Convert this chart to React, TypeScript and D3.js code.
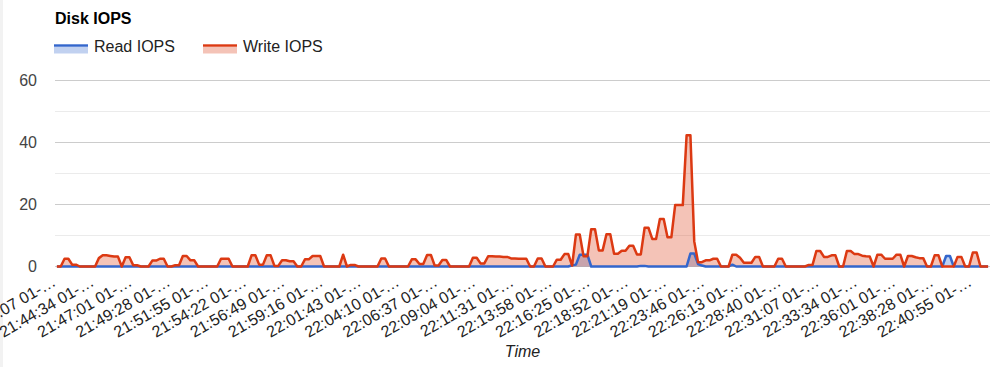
import React from "react";
import * as d3 from "d3";

const W = 995;
const H = 367;

// Write IOPS, one value per sample (~14.7 s each)
const writeIOPS = [
  0, 0, 2.5, 2.5, 0.6, 0.6, 0, 0, 0, 0,
  0, 2.7, 3.6, 3.6, 3.4, 3.2, 3.2, 0, 3.0, 3.0,
  0.4, 0.4, 0, 0, 0, 1.9, 1.9, 2.5, 2.5, 0,
  0, 0.4, 0.4, 3.4, 3.4, 2.0, 2.0, 0, 0, 0,
  0, 0, 0, 2.5, 2.5, 2.5, 0, 0, 0, 0,
  0, 3.6, 3.6, 0.6, 0.6, 3.6, 3.6, 0.2, 0.2, 2.0,
  2.0, 1.7, 1.7, 0, 0, 2.3, 2.3, 3.4, 3.4, 3.4,
  0, 0, 0, 0, 0, 3.8, 0, 0.5, 0.5, 0,
  0, 0, 0, 0, 0, 2.6, 2.6, 0, 0, 0,
  0, 0, 0, 2.3, 2.3, 0.8, 0.8, 3.7, 3.7, 0.3,
  0.3, 2.1, 2.1, 0, 0, 0, 0, 0, 0, 2.8,
  2.8, 1.0, 1.0, 3.3, 3.3, 3.2, 3.2, 3.1, 3.1, 2.6,
  2.6, 2.5, 2.5, 2.5, 0, 0, 2.6, 2.6, 0, 0,
  0, 2.2, 2.2, 4.0, 4.0, 0.3, 10.3, 10.3, 3.3, 3.3,
  12.0, 12.0, 5.2, 5.2, 10.4, 10.4, 4.1, 4.1, 5.1, 5.1,
  6.7, 6.7, 3.9, 3.9, 12.5, 12.5, 8.9, 8.9, 15.3, 15.3,
  9.4, 9.4, 19.8, 19.8, 19.8, 42.3, 42.3, 8.1, 1.4, 1.4,
  2.0, 2.0, 2.5, 2.5, 0, 0, 0, 3.8, 3.8, 2.8,
  1.2, 1.2, 1.2, 3.1, 3.1, 0, 0, 0, 0, 2.5,
  2.5, 0, 0, 0, 0, 0, 0, 0.5, 0.5, 5.0,
  5.0, 3.1, 3.1, 3.6, 3.6, 0, 0, 5.0, 5.0, 4.0,
  4.0, 3.5, 3.3, 3.2, 0, 3.8, 3.8, 2.5, 2.5, 2.5,
  3.8, 3.8, 0, 3.4, 3.4, 3.0, 2.7, 2.7, 0, 0,
  3.6, 3.6, 0, 0, 0, 0, 3.1, 3.1, 0, 0,
  4.5, 4.5, 0, 0, 0,
];

// Read IOPS, same samples
const readIOPS = [
  0, 0, 0, 0, 0, 0, 0, 0, 0, 0,
  0, 0, 0, 0, 0, 0, 0, 0, 0, 0,
  0, 0, 0, 0, 0, 0, 0, 0, 0, 0,
  0, 0, 0, 0, 0, 0, 0, 0, 0, 0,
  0, 0, 0, 0, 0, 0, 0, 0, 0, 0,
  0, 0, 0, 0, 0, 0, 0, 0, 0, 0,
  0, 0, 0, 0, 0, 0, 0, 0, 0, 0,
  0, 0, 0, 0, 0, 0, 0, 0, 0, 0,
  0, 0, 0, 0, 0, 0, 0, 0, 0, 0,
  0, 0, 0, 0, 0, 0, 0, 0, 0, 0,
  0, 0, 0, 0, 0, 0, 0, 0, 0, 0,
  0, 0, 0, 0, 0, 0, 0, 0, 0, 0,
  0, 0, 0, 0, 0, 0, 0, 0, 0, 0,
  0, 0, 0, 0, 0, 0.4, 0.6, 3.8, 3.8, 3.8,
  0, 0, 0, 0, 0, 0, 0, 0, 0, 0,
  0, 0, 0, 0.2, 0.2, 0, 0, 0, 0, 0,
  0, 0, 0, 0, 0, 0, 4.2, 4.2, 0.8, 0.3,
  0, 0, 0, 0, 0, 0, 0, 0.6, 0, 0,
  0, 0, 0, 0, 0, 0, 0, 0, 0, 0,
  0, 0, 0, 0, 0, 0, 0, 0, 0, 0,
  0, 0, 0, 0, 0, 0, 0, 0, 0, 0,
  0, 0, 0, 0, 0, 0, 0, 0, 0, 0,
  0, 0, 0, 0, 0, 0, 0, 0, 0, 0,
  0, 0, 0, 3.4, 3.4, 0, 0, 0, 0, 0,
  0, 0, 0, 0, 0,
];

// x-axis labels, one every LABEL_EVERY samples
const tickLabels = [
  "21:42:07", "21:44:34", "21:47:01", "21:49:28", "21:51:55", "21:54:22",
  "21:56:49", "21:59:16", "22:01:43", "22:04:10", "22:06:37", "22:09:04",
  "22:11:31", "22:13:58", "22:16:25", "22:18:52", "22:21:19", "22:23:46",
  "22:26:13", "22:28:40", "22:31:07", "22:33:34", "22:36:01", "22:38:28",
  "22:40:55",
];
const LABEL_SUFFIX = " 01-\u2026";
const LABEL_EVERY = 10;

const yMajor = [0, 20, 40, 60];
const yMinor = [10, 30, 50];

const series = [
  { name: "Read IOPS", color: "#3366cc", data: readIOPS },
  { name: "Write IOPS", color: "#dc3912", data: writeIOPS },
];

const FONT = "'Liberation Sans', Arial, sans-serif";

export default function App() {
  const left = 55;
  const right = 990;
  const idx = d3.range(writeIOPS.length);
  const x = d3.scalePoint<number>().domain(idx).range([left, right]).padding(0.5);
  const y = d3.scaleLinear().domain([0, 60]).range([266.5, 80.5]);

  const areaGen = d3
    .area<number>()
    .x((_, i) => x(i) as number)
    .y0(y(0))
    .y1((d) => y(d));
  const lineGen = d3
    .line<number>()
    .x((_, i) => x(i) as number)
    .y((d) => y(d));

  const legendX = [54, 203];

  return (
    <svg
      width={W}
      height={H}
      style={{ position: "absolute", left: 0, top: 0, background: "#fff" }}
      fontFamily={FONT}
    >
      <rect x={0} y={0} width={W} height={H} fill="#ffffff" />
      <rect x={0} y={0} width={3} height={H} fill="#f2f2f2" />

      {/* title */}
      <text x={55} y={24} fontSize={16} fontWeight="bold" fill="#000">
        Disk IOPS
      </text>

      {/* legend */}
      {series.map((s, k) => (
        <g key={s.name}>
          <rect x={legendX[k]} y={46.5} width={34} height={7} fill={s.color} fillOpacity={0.3} />
          <rect x={legendX[k]} y={44.3} width={34} height={2.4} fill={s.color} />
          <text x={legendX[k] + 40} y={52} fontSize={16} fill="#222">
            {s.name}
          </text>
        </g>
      ))}

      {/* gridlines */}
      {yMinor.map((v) => (
        <line key={"mn" + v} x1={left} x2={right} y1={y(v)} y2={y(v)} stroke="#ebebeb" strokeWidth={1} />
      ))}
      {yMajor.map((v) => (
        <line key={"mj" + v} x1={left} x2={right} y1={y(v)} y2={y(v)} stroke="#cccccc" strokeWidth={1} />
      ))}
      {yMajor.map((v) => (
        <text key={"yl" + v} x={37} y={y(v) + 5.5} fontSize={16} fill="#444" textAnchor="end">
          {v}
        </text>
      ))}

      {/* areas */}
      {series.map((s) => (
        <path key={"a" + s.name} d={areaGen(s.data) || ""} fill={s.color} fillOpacity={0.3} stroke="none" />
      ))}
      {/* lines */}
      {series.map((s) => (
        <path
          key={"l" + s.name}
          d={lineGen(s.data) || ""}
          fill="none"
          stroke={s.color}
          strokeWidth={2.5}
          strokeLinejoin="round"
        />
      ))}

      {/* x labels */}
      {tickLabels.map((t, k) => {
        const tx = x(k * LABEL_EVERY) as number;
        const ty = 285;
        return (
          <text
            key={t}
            x={tx}
            y={ty}
            fontSize={16}
            fill="#222"
            textAnchor="end"
            transform={`rotate(-30 ${tx} ${ty})`}
          >
            {t + LABEL_SUFFIX}
          </text>
        );
      })}

      <text x={(left + right) / 2} y={357} fontSize={16} fontStyle="italic" fill="#222" textAnchor="middle">
        Time
      </text>
    </svg>
  );
}
